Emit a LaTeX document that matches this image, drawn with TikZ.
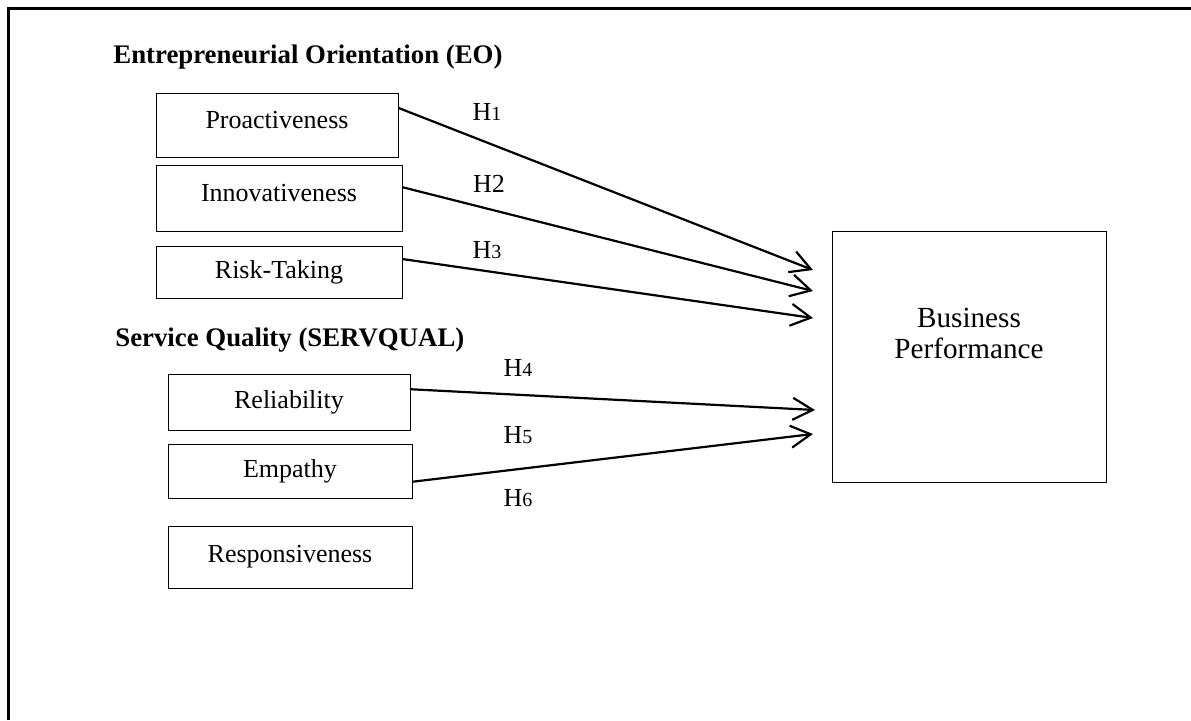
\documentclass[tikz,border=0pt]{standalone}
\usepackage{fontspec}
\setmainfont{Liberation Serif}
\usepackage{tikz}
\usetikzlibrary{arrows.meta,positioning}
\tikzset{
  caixa/.style={rectangle,draw=black,line width=0.5pt,inner sep=0pt,
    font=\fontsize{13}{15}\selectfont},
  alvo/.style={rectangle,draw=black,line width=0.5pt,inner sep=0pt,
    minimum width=137pt,minimum height=125.5pt},
  titulo/.style={anchor=west,inner sep=0pt,font=\fontsize{13.4}{15}\selectfont\bfseries},
  rotulo/.style={inner sep=0pt,font=\fontsize{13}{15}\selectfont},
  seta/.style={-{Straight Barb[length=10pt,width=11pt,line width=1.1pt]},line width=1.1pt,black},
  moldura/.style={line width=1.5pt,black}
}

\begin{document}
\begin{tikzpicture}[x=0.5pt,y=-0.5pt]
\useasboundingbox (0,0) rectangle (1191,720);
% moldura aberta (topo e lado esquerdo)
\coordinate (cantoA) at (8,720);
\coordinate (cantoB) at (8,8);
\coordinate (cantoC) at (1191,8);
\draw[moldura] (cantoA) -- (cantoB) -- (cantoC);

% EO
\node[titulo] (tituloEO) at (113,57) {Entrepreneurial Orientation (EO)};
\node[caixa,minimum width=121pt,minimum height=32pt,text depth=5pt] (pro) at (277,125) {Proactiveness};
\node[caixa,minimum width=123pt,minimum height=33pt,text depth=5pt] (ino) at (279,198) {Innovativeness};
\node[caixa,minimum width=123pt,minimum height=26pt] (ris) at (279,272) {Risk-Taking};

% SERVQUAL
\node[titulo] (tituloSQ) at (115,340) {Service Quality (SERVQUAL)};
\node[caixa,minimum width=121pt,minimum height=28pt] (con) at (289,402) {Reliability};
\node[caixa,minimum width=122pt,minimum height=27pt] (emp) at (290,471) {Empathy};
\node[caixa,minimum width=122pt,minimum height=31pt,text depth=3pt] (res) at (290,557) {Responsiveness};

% desempenho
\node[alvo] (bp) at (969,356.5) {};
\node[rotulo,align=center,font=\fontsize{14.6}{15.5}\selectfont] (bptexto) at (969,333) {Business\\Performance};

% pontas das setas
\coordinate (p1) at (813,270);
\coordinate (p2) at (813,291);
\coordinate (p3) at (813,318);
\coordinate (p4) at (815,410);
\coordinate (p5) at (813,434);

\draw[seta] (pro.8) -- (p1);
\draw[seta] (ino.5) -- (p2);
\draw[seta] (ris.6) -- (p3);
\draw[seta] (con.6) -- (p4);
\draw[seta] (emp.-5) -- (p5);

% hipoteses
\node[rotulo] (h1) at (487,112) {H{\fontsize{10}{12}\selectfont 1}};
\node[rotulo] (h2) at (489,184) {H2};
\node[rotulo] (h3) at (487,250) {H{\fontsize{10}{12}\selectfont 3}};
\node[rotulo] (h4) at (518,368) {H{\fontsize{10}{12}\selectfont 4}};
\node[rotulo] (h5) at (518,435) {H{\fontsize{10}{12}\selectfont 5}};
\node[rotulo] (h6) at (518,498) {H{\fontsize{10}{12}\selectfont 6}};
\end{tikzpicture}
\end{document}
